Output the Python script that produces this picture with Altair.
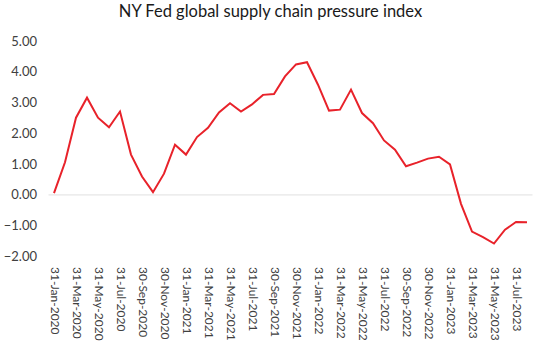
import altair as alt
import pandas as pd

months = [
    "31-Jan-2020", "29-Feb-2020", "31-Mar-2020", "30-Apr-2020", "31-May-2020", "30-Jun-2020",
    "31-Jul-2020", "31-Aug-2020", "30-Sep-2020", "31-Oct-2020", "30-Nov-2020", "31-Dec-2020",
    "31-Jan-2021", "28-Feb-2021", "31-Mar-2021", "30-Apr-2021", "31-May-2021", "30-Jun-2021",
    "31-Jul-2021", "31-Aug-2021", "30-Sep-2021", "31-Oct-2021", "30-Nov-2021", "31-Dec-2021",
    "31-Jan-2022", "28-Feb-2022", "31-Mar-2022", "30-Apr-2022", "31-May-2022", "30-Jun-2022",
    "31-Jul-2022", "31-Aug-2022", "30-Sep-2022", "31-Oct-2022", "30-Nov-2022", "31-Dec-2022",
    "31-Jan-2023", "28-Feb-2023", "31-Mar-2023", "30-Apr-2023", "31-May-2023", "30-Jun-2023",
    "31-Jul-2023", "31-Aug-2023",
]
gscpi = [
    0.06, 1.06, 2.51, 3.16, 2.51, 2.20, 2.71, 1.31, 0.60, 0.09, 0.69, 1.63,
    1.31, 1.88, 2.18, 2.68, 2.98, 2.71, 2.94, 3.25, 3.28, 3.85, 4.24, 4.31,
    3.58, 2.74, 2.77, 3.42, 2.66, 2.33, 1.77, 1.47, 0.93, 1.05, 1.18, 1.24,
    0.99, -0.29, -1.19, -1.37, -1.58, -1.13, -0.88, -0.89,
]
shown_labels = months[::2]
y_ticks = [-2, -1, 0, 1, 2, 3, 4, 5]

df = pd.DataFrame({"month": months, "value": gscpi})

FONT = "Lato"
W, H = 484, 215.5

x_axis = alt.Axis(
    values=shown_labels,
    labelAngle=90,
    labelAlign="left",
    labelBaseline="middle",
    labelPadding=10,
    labelFont=FONT,
    labelFontSize=12,
    labelColor="#404040",
    domain=False,
    ticks=False,
    grid=False,
    title=None,
    labelOverlap=False,
)

y_axis = alt.Axis(
    values=y_ticks,
    tickCount=8,
    format=".2f",
    labelFont=FONT,
    labelFontSize=13,
    labelColor="#404040",
    labelPadding=12,
    labelOverlap=False,
    labelFlush=False,
    domain=False,
    ticks=False,
    grid=False,
    title=None,
)
y_scale = alt.Scale(domain=[-2, 5], nice=False, zero=False)

line = alt.Chart(df).mark_line(color="#E8222A", strokeWidth=2).encode(
    x=alt.X("month:O", sort=months, scale=alt.Scale(type="point", padding=0.5), axis=x_axis),
    y=alt.Y("value:Q", scale=y_scale, axis=y_axis),
)

zero = alt.Chart(pd.DataFrame({"v": [0]})).mark_rule(color="#E0E0E0", strokeWidth=1).encode(
    y=alt.Y("v:Q", scale=y_scale, axis=y_axis)
)

chart = (
    alt.layer(zero, line)
    .properties(
        width=W,
        height=H,
        background="white",
        title=alt.TitleParams(
            "NY Fed global supply chain pressure index",
            font=FONT,
            fontSize=16.5,
            fontWeight="normal",
            color="#1a1a1a",
            anchor="middle",
            frame="group",
            dx=-20,
            offset=15,
        ),
        autosize=alt.AutoSizeParams(type="none"),
        padding={"left": 48.5, "top": 41, "right": 7.5, "bottom": 95.5},
    )
    .configure_view(stroke=None)
)

chart.save("out.html", embed_options={"renderer": "svg", "actions": False})
